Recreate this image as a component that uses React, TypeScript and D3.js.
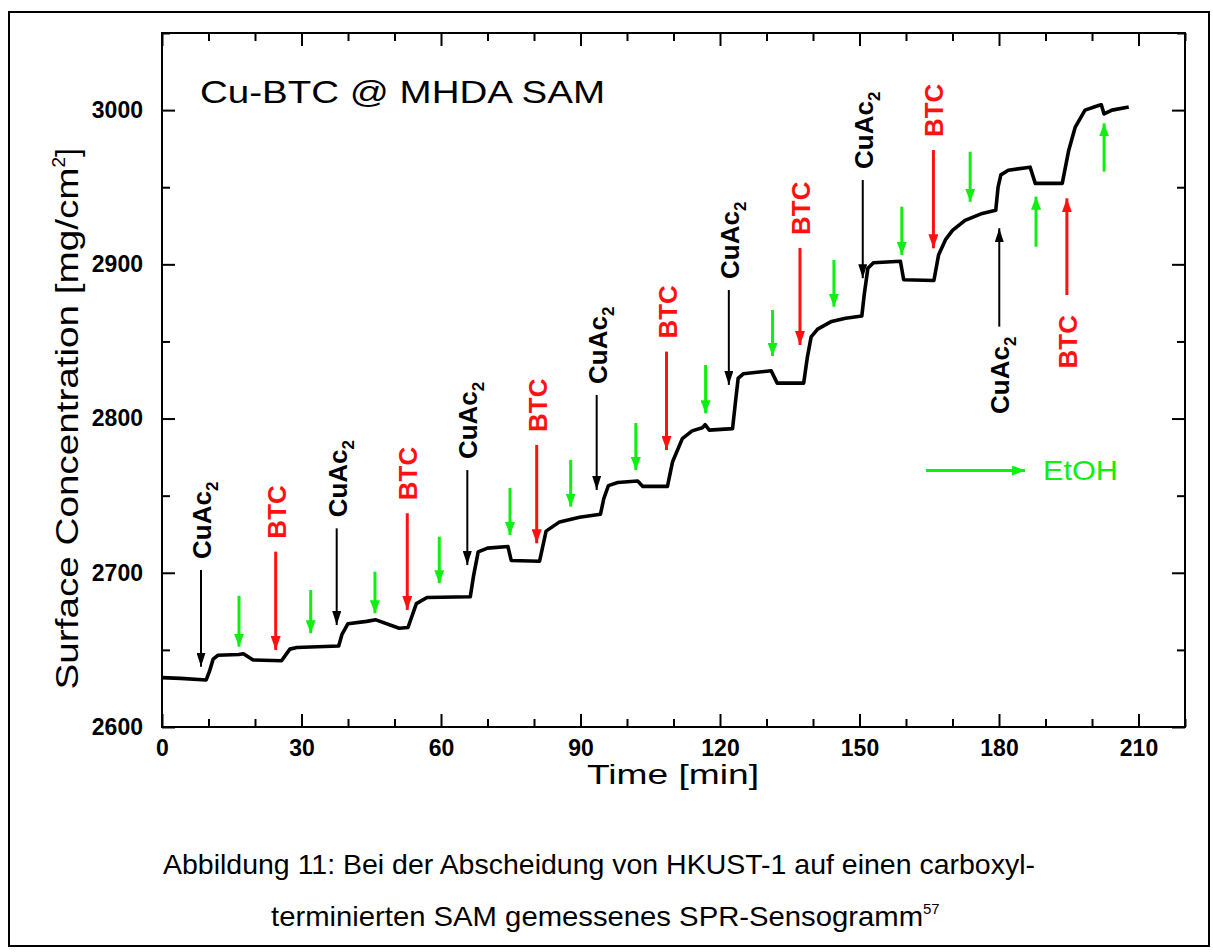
import React, { useEffect, useRef } from 'react';
import * as d3 from 'd3';

// sensogram trace (time [min], surface concentration)
const traceTime = [
  0, 4, 9.5, 10.2, 11, 12, 16.5, 17.5, 19.6, 25.7, 27.5, 29, 38, 38.7, 40, 44, 46, 51, 52.9, 54.7,
  57, 66.3, 67, 68, 70, 74.4, 75.1, 81.2, 82.6, 85.5, 89.8, 94.3, 95, 96, 98, 102.3, 103.4, 108.7,
  109.8, 111.9, 114, 116.2, 116.8, 117.7, 122.7, 123.3, 123.9, 125, 131, 132.3, 138, 138.8, 139.6,
  141, 144, 147, 150.5, 151, 151.8, 153, 158.8, 159.5, 166, 167, 168.5, 170, 172.7, 176.4, 179.3,
  179.8, 180.4, 182, 186.7, 187.8, 193.6, 195, 196.4, 198.5, 201.4, 202, 202.6, 204.3, 207.9,
];
const traceValue = [
  2632, 2631.5, 2630.5, 2636, 2644, 2646.5, 2647, 2647.5, 2643.5, 2643, 2650.5, 2651.5, 2652.5, 2660,
  2667, 2668.5, 2669.5, 2664, 2664.5, 2680, 2684, 2684.5, 2698, 2713.5, 2716, 2717, 2708, 2707.5,
  2727, 2733, 2736, 2738, 2748, 2756.5, 2758.5, 2759.5, 2756, 2756, 2772, 2787, 2792, 2794, 2796,
  2792.5, 2793.5, 2810, 2826, 2829, 2831, 2823, 2823, 2840, 2853, 2858, 2863, 2865, 2866.5, 2880,
  2897.5, 2901, 2902, 2890, 2889.5, 2906, 2916, 2922, 2928.5, 2933, 2935, 2950, 2958, 2961, 2963,
  2952.5, 2952.5, 2974, 2989, 3000, 3003, 3003.5, 2997.5, 3000, 3002,
];

// injection arrows: time, tail value, tip value
const cuTime = [8.39, 37.57, 65.66, 93.48, 121.9, 150.7, 180.06];
const cuTail = [2701.8, 2728.8, 2766.6, 2815.3, 2883.4, 2954.7, 2859.6];
const cuTip = [2639.1, 2666.1, 2705.0, 2753.7, 2821.8, 2891.0, 2923.4];

const btcTime = [24.45, 52.75, 80.58, 108.5, 137.2, 165.9, 194.6];
const btcTail = [2713.7, 2738.6, 2782.9, 2843.4, 2910.6, 2974.1, 2880.1];
const btcTip = [2649.9, 2675.9, 2719.1, 2779.6, 2847.7, 2910.4, 2942.8];

const etohTime = [16.56, 31.98, 45.8, 59.63, 74.84, 87.89, 101.9, 116.9, 131.3, 144.5, 159.1, 173.8, 187.96, 202.6];
const etohTail = [2685.1, 2688.8, 2700.7, 2723.4, 2755.0, 2773.1, 2797.1, 2834.7, 2870.4, 2902.8, 2937.4, 2973.0, 2911.4, 2960.1];
const etohTip = [2652.1, 2660.8, 2673.7, 2693.2, 2724.5, 2742.9, 2766.6, 2803.4, 2840.6, 2872.5, 2906.1, 2940.6, 2943.9, 2991.4];

const xMajor = [0, 30, 60, 90, 120, 150, 180, 210];
const xMinor = d3.range(0, 221, 10);
const yMajor = [2600, 2700, 2800, 2900, 3000];
const yMinor = d3.range(2600, 3051, 50);

const W = 1213;
const H = 952;
const FONT = "'Liberation Sans', Arial, Helvetica, sans-serif";
const GREEN = '#11ee11';
const RED = '#ff1111';

const App = () => {
  const ref = useRef<SVGSVGElement>(null);

  useEffect(() => {
    const svg = d3.select(ref.current);
    svg.selectAll('*').remove();

    const margin = { left: 162, top: 33, right: 1185, bottom: 727 };
    const x = d3.scaleLinear().domain([0, 220]).range([margin.left, margin.right]);
    const y = d3.scaleLinear().domain([2600, 3050]).range([margin.bottom, margin.top]);

    // outer frame
    svg.append('rect')
      .attr('x', 9).attr('y', 12).attr('width', 1200).attr('height', 934)
      .attr('fill', 'none').attr('stroke', '#000').attr('stroke-width', 2);

    // arrow heads
    const defs = svg.append('defs');
    const marker = (id: string, color: string, w: number, l: number) => {
      defs.append('marker')
        .attr('id', id)
        .attr('viewBox', `0 0 ${l} ${w}`)
        .attr('refX', l).attr('refY', w / 2)
        .attr('markerWidth', l).attr('markerHeight', w)
        .attr('markerUnits', 'userSpaceOnUse')
        .attr('orient', 'auto')
        .append('path')
        .attr('d', `M0,0L${l},${w / 2}L0,${w}Z`)
        .attr('fill', color);
    };
    marker('hk', '#000', 9, 14);
    marker('hr', RED, 10, 14);
    marker('hg', GREEN, 10, 13);

    const line = d3.line<number>()
      .x((_, i) => x(traceTime[i]))
      .y(d => y(d));

    svg.append('path')
      .datum(traceValue)
      .attr('d', line)
      .attr('fill', 'none')
      .attr('stroke', '#000')
      .attr('stroke-width', 3.6)
      .attr('stroke-linejoin', 'round');

    // axes
    const axisStyle = (g: d3.Selection<SVGGElement, unknown, null, undefined>) => {
      g.select('.domain').remove();
      g.selectAll('line').attr('stroke', '#000').attr('stroke-width', 2);
      g.selectAll('text')
        .attr('font-family', FONT)
        .attr('font-size', 23)
        .attr('font-weight', 'bold')
        .attr('fill', '#000');
    };

    const minorX = xMinor.filter(d => !xMajor.includes(d));
    const minorY = yMinor.filter(d => !yMajor.includes(d));

    svg.append('g').attr('transform', `translate(0,${margin.bottom})`)
      .call(d3.axisBottom(x).tickValues(xMajor).tickSize(-13).tickPadding(13).tickFormat(d3.format('d')))
      .call(axisStyle);
    svg.append('g').attr('transform', `translate(0,${margin.bottom})`)
      .call(d3.axisBottom(x).tickValues(minorX).tickSize(-8).tickFormat(() => ''))
      .call(axisStyle);
    svg.append('g').attr('transform', `translate(0,${margin.top})`)
      .call(d3.axisTop(x).tickValues(xMajor).tickSize(-13).tickFormat(() => ''))
      .call(axisStyle);
    svg.append('g').attr('transform', `translate(0,${margin.top})`)
      .call(d3.axisTop(x).tickValues(minorX).tickSize(-8).tickFormat(() => ''))
      .call(axisStyle);

    svg.append('g').attr('transform', `translate(${margin.left},0)`)
      .call(d3.axisLeft(y).tickValues(yMajor).tickSize(-13).tickPadding(19).tickFormat(d3.format('d')))
      .call(axisStyle);
    svg.append('g').attr('transform', `translate(${margin.left},0)`)
      .call(d3.axisLeft(y).tickValues(minorY).tickSize(-8).tickFormat(() => ''))
      .call(axisStyle);
    svg.append('g').attr('transform', `translate(${margin.right},0)`)
      .call(d3.axisRight(y).tickValues(yMajor).tickSize(-13).tickFormat(() => ''))
      .call(axisStyle);
    svg.append('g').attr('transform', `translate(${margin.right},0)`)
      .call(d3.axisRight(y).tickValues(minorY).tickSize(-8).tickFormat(() => ''))
      .call(axisStyle);

    svg.append('rect')
      .attr('x', margin.left).attr('y', margin.top)
      .attr('width', margin.right - margin.left).attr('height', margin.bottom - margin.top)
      .attr('fill', 'none').attr('stroke', '#000').attr('stroke-width', 2);

    // arrows
    const arrows = (times: number[], tails: number[], tips: number[], color: string, width: number, head: string) => {
      svg.append('g').selectAll('line')
        .data(times)
        .enter()
        .append('line')
        .attr('x1', d => x(d)).attr('x2', d => x(d))
        .attr('y1', (_, i) => y(tails[i]))
        .attr('y2', (_, i) => y(tips[i]))
        .attr('stroke', color)
        .attr('stroke-width', width)
        .attr('marker-end', `url(#${head})`);
    };
    arrows(cuTime, cuTail, cuTip, '#000', 2, 'hk');
    arrows(btcTime, btcTail, btcTip, RED, 3, 'hr');
    arrows(etohTime, etohTail, etohTip, GREEN, 3, 'hg');

    // rotated labels: above the tail for downward arrows, below it for upward ones
    const labels = (times: number[], tails: number[], tips: number[], text: string, sub: string, color: string, gap: number, upGap: number) => {
      times.forEach((t, i) => {
        const up = tips[i] > tails[i];
        const bx = x(t) + 10;
        const ty = y(tails[i]);
        const el = svg.append('text')
          .attr('transform', `translate(${bx},${up ? ty + upGap : ty - gap}) rotate(-90)`)
          .attr('text-anchor', up ? 'end' : 'start')
          .attr('font-family', FONT)
          .attr('font-size', 26)
          .attr('font-weight', 'bold')
          .attr('fill', color);
        el.append('tspan').text(text);
        if (sub) el.append('tspan').attr('dy', 7).attr('font-size', 17).text(sub);
      });
    };
    labels(cuTime, cuTail, cuTip, 'CuAc', '2', '#000', 11, 10);
    labels(btcTime, btcTail, btcTip, 'BTC', '', RED, 13, 20);

    // legend
    svg.append('line')
      .attr('x1', 926).attr('x2', 1025).attr('y1', 470.5).attr('y2', 470.5)
      .attr('stroke', GREEN).attr('stroke-width', 3)
      .attr('marker-end', 'url(#hg)');
    svg.append('text')
      .attr('x', 1043).attr('y', 480)
      .attr('font-family', FONT).attr('font-size', 28)
      .attr('textLength', 75).attr('lengthAdjust', 'spacingAndGlyphs')
      .attr('fill', GREEN)
      .text('EtOH');

    // title
    svg.append('text')
      .attr('x', 200).attr('y', 103)
      .attr('font-family', FONT).attr('font-size', 32)
      .attr('textLength', 405).attr('lengthAdjust', 'spacingAndGlyphs')
      .text('Cu-BTC @ MHDA SAM');

    // axis titles
    svg.append('text')
      .attr('x', 673).attr('y', 784)
      .attr('text-anchor', 'middle')
      .attr('font-family', FONT).attr('font-size', 28)
      .attr('textLength', 172).attr('lengthAdjust', 'spacingAndGlyphs')
      .text('Time [min]');

    const yt = svg.append('text')
      .attr('transform', `translate(78,148) rotate(-90)`)
      .attr('text-anchor', 'end')
      .attr('font-family', FONT).attr('font-size', 32);
    yt.append('tspan')
      .attr('textLength', 522).attr('lengthAdjust', 'spacingAndGlyphs')
      .text('Surface Concentration [mg/cm');
    yt.append('tspan').attr('dy', -13).attr('font-size', 19).text('2');
    yt.append('tspan').attr('dy', 13).text(']');

    // caption
    svg.append('text')
      .attr('x', 163).attr('y', 874)
      .attr('font-family', FONT).attr('font-size', 28)
      .attr('textLength', 872).attr('lengthAdjust', 'spacingAndGlyphs')
      .text('Abbildung 11: Bei der Abscheidung von HKUST-1 auf einen carboxyl-');
    const c2 = svg.append('text')
      .attr('x', 271).attr('y', 926)
      .attr('font-family', FONT).attr('font-size', 28);
    c2.append('tspan')
      .attr('textLength', 652).attr('lengthAdjust', 'spacingAndGlyphs')
      .text('terminierten SAM gemessenes SPR-Sensogramm');
    c2.append('tspan').attr('dy', -12).attr('font-size', 15).text('57');
  }, []);

  return (
    <svg
      ref={ref}
      width={W}
      height={H}
      style={{ position: 'absolute', left: 0, top: 0, background: '#fff' }}
    />
  );
};

export default App;
